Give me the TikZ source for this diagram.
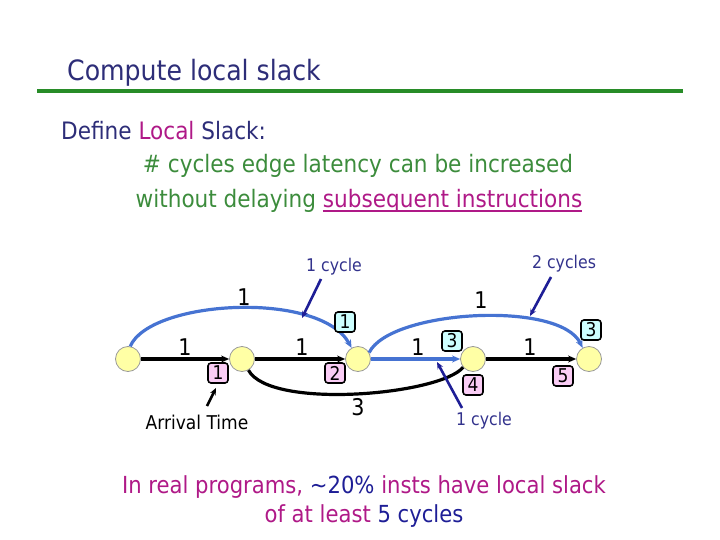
\documentclass[tikz,border=0pt]{standalone}
\usepackage{fontspec}
\setmainfont{DejaVu Sans Condensed}
\usetikzlibrary{arrows.meta}
\definecolor{titleblue}{RGB}{45,45,120}
\definecolor{linegreen}{RGB}{40,140,40}
\definecolor{txtgreen}{RGB}{60,140,60}
\definecolor{magent}{RGB}{175,25,135}
\definecolor{darkblue}{RGB}{30,30,150}
\definecolor{annblue}{RGB}{50,50,140}
\definecolor{arcblue}{RGB}{70,115,210}
\definecolor{nodeyellow}{RGB}{255,255,165}
\definecolor{pinkbox}{RGB}{250,205,245}
\definecolor{cyanbox}{RGB}{205,255,255}
\newcommand\thickul[1]{\setbox0\hbox{#1}\rlap{\rule[-4pt]{\wd0}{1.6pt}}\box0}
\begin{document}
\begin{tikzpicture}[x=1pt,y=-1pt,
  vert/.style={circle,draw=gray!80,fill=nodeyellow,minimum size=25pt,inner sep=0pt,line width=0.8pt},
  arrbox/.style={draw=black,rounded corners=3pt,fill=pinkbox,line width=1.6pt,minimum width=20pt,minimum height=20pt,inner sep=0pt,font=\fontsize{19}{19}\selectfont},
  slkbox/.style={arrbox,fill=cyanbox},
  edge/.style={line width=3.2pt,-{Stealth[length=8pt,width=7pt]}},
  bedge/.style={edge,draw=arcblue},
  elab/.style={font=\fontsize{23}{23}\selectfont,inner sep=0pt},
  ann/.style={font=\fontsize{17.5}{17.5}\selectfont,text=annblue,inner sep=0pt},
  annarrow/.style={line width=2.6pt,draw=darkblue,-{Stealth[length=7pt,width=6pt]}}
]
\useasboundingbox (0,0) rectangle (720,540);
% header
\node[anchor=base west,text=titleblue,font=\fontsize{28}{28}\selectfont,inner sep=0pt] (title) at (67,81) {Compute local slack};
\coordinate (ruleL) at (37,91);
\coordinate (ruleR) at (683,91);
\draw[linegreen,line width=3.2pt] (ruleL) -- (ruleR);
\node[anchor=base west,text=titleblue,font=\fontsize{24}{24}\selectfont,inner sep=0pt] (def) at (61,140) {Define \textcolor{magent}{Local} Slack:};
\node[text=txtgreen,font=\fontsize{24}{24}\selectfont,inner sep=0pt] (def2) at (358,166) {\# cycles edge latency can be increased};
\node[text=txtgreen,font=\fontsize{24}{24}\selectfont,inner sep=0pt] (def3) at (359,201) {without delaying \textcolor{magent}{\thickul{subsequent instructions}}};
% vertices
\node[vert] (n1) at (128,359) {};
\node[vert] (n2) at (242,359) {};
\node[vert] (n3) at (358,359) {};
\node[vert] (n4) at (473,359) {};
\node[vert] (n5) at (589,359) {};
% edges
\draw[edge] (n1) -- (n2);
\draw[edge] (n2) -- (n3);
\draw[bedge] (n3) -- (n4);
\draw[edge] (n4) -- (n5);
\draw[bedge] (n1.80) .. controls (150,300) and (320,290) .. (n3.120);
\draw[bedge] (n3.30) .. controls (390,310) and (560,300) .. (n5.120);
\draw[line width=3.2pt] (n2.-60) .. controls (270,410) and (440,395) .. (n4.-140);
% edge labels
\node[elab] (l12) at (185,347) {1};
\node[elab] (l23) at (302,347) {1};
\node[elab] (l34) at (418,347) {1};
\node[elab] (l45) at (530,347) {1};
\node[elab] (l13) at (244,297) {1};
\node[elab] (l35) at (481,300) {1};
\node[elab] (l24) at (358,407) {3};
% arrival boxes
\node[arrbox] (a2) at (218,373) {1};
\node[arrbox] (a3) at (335,373) {2};
\node[arrbox] (a4) at (473,385) {4};
\node[arrbox] (a5) at (563,376) {5};
% slack boxes
\node[slkbox] (s13) at (345,322) {1};
\node[slkbox] (s34) at (452,341) {3};
\node[slkbox] (s35) at (591,330) {3};
% annotations
\node[ann] (c1) at (334,267) {1 cycle};
\node[ann] (c2) at (564,264) {2 cycles};
\node[ann] (c3) at (484,421) {1 cycle};
\node[font=\fontsize{19}{19}\selectfont,inner sep=0pt] (arr) at (197,422) {Arrival Time};
\coordinate (t1) at (302,318);
\coordinate (t2) at (530,316);
\coordinate (t3) at (437,362);
\coordinate (t4) at (216,388);
\draw[annarrow] (321,279) -- (t1);
\draw[annarrow] (551,277) -- (t2);
\draw[annarrow] (462,408) -- (t3);
\draw[annarrow,draw=black] (207,406) -- (t4);
% bottom
\node[text=magent,font=\fontsize{23.5}{23.5}\selectfont,inner sep=0pt] (b1) at (364,487) {In real programs, \textcolor{darkblue}{\textasciitilde20\%} insts have local slack};
\node[text=magent,font=\fontsize{23.5}{23.5}\selectfont,inner sep=0pt] (b2) at (364,516) {of at least \textcolor{darkblue}{5 cycles}};
\end{tikzpicture}
\end{document}
